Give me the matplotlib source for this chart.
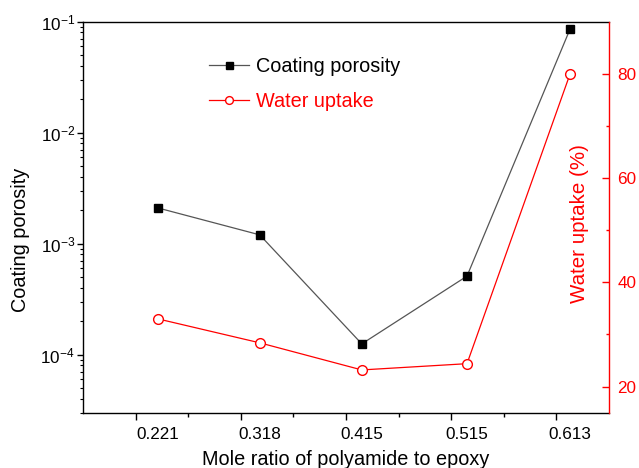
import numpy as np
import matplotlib
matplotlib.use('Agg')
from matplotlib import pyplot as plt
from matplotlib.ticker import NullFormatter

plt.rcParams['font.family'] = ['Liberation Sans', 'DejaVu Sans']
plt.rcParams['mathtext.fontset'] = 'custom'
plt.rcParams['mathtext.rm'] = 'Liberation Sans'

# data
ratio = [0.221, 0.318, 0.415, 0.515, 0.613]
ratio_labels = ['0.221', '0.318', '0.415', '0.515', '0.613']
porosity = [2.1e-3, 1.2e-3, 1.25e-4, 5.1e-4, 0.086]
water_uptake = [33.0, 28.4, 23.2, 24.4, 80.0]

fig = plt.figure(figsize=(6.39, 4.68), dpi=100)
ax = fig.add_axes([0.1299, 0.1182, 0.8232, 0.8355])
ax2 = ax.twinx()

l1, = ax.plot(ratio, porosity, color='#555555', lw=0.9, marker='s', ms=6.3,
              mfc='black', mec='black', label='Coating porosity')
l2, = ax2.plot(ratio, water_uptake, color='red', lw=0.9, marker='o', ms=7,
               mfc='white', mec='red', mew=1, label='Water uptake')

ax.set_yscale('log')
ax.set_ylim(3e-5, 0.1)
ax.set_xlim(0.15, 0.65)
ax2.set_ylim(15, 90)

# x axis: plain ticks, labels drawn at the data points
ax.set_xticks([0.2, 0.3, 0.4, 0.5, 0.6])
ax.set_xticklabels([])
ax.set_xticks([0.25, 0.35, 0.45, 0.55], minor=True)
ax.tick_params(axis='x', which='major', length=5, width=1, direction='out')
ax.tick_params(axis='x', which='minor', length=3, width=1, direction='out')
for xv, lab in zip(ratio, ratio_labels):
    ax.text(xv, -0.068, lab, transform=ax.get_xaxis_transform(),
            ha='center', va='baseline', fontsize=12.3)

ax.tick_params(axis='y', which='major', length=4.3, width=1, direction='out',
               labelsize=12.3, pad=1.5)
ax.tick_params(axis='y', which='minor', length=2.5, width=0.8, direction='out')
ax.yaxis.set_minor_formatter(NullFormatter())

ax2.set_yticks([20, 40, 60, 80])
ax2.set_yticks([30, 50, 70], minor=True)
ax2.tick_params(axis='y', which='major', length=5, width=1, direction='in',
                colors='red', labelsize=12.3, pad=6)
ax2.tick_params(axis='y', which='minor', length=2.5, width=1, direction='in',
                colors='red')

for s in ['left', 'bottom', 'top']:
    ax.spines[s].set_linewidth(1)
ax.spines['right'].set_visible(False)
for s in ['left', 'bottom', 'top']:
    ax2.spines[s].set_visible(False)
ax2.spines['right'].set_color('red')
ax2.spines['right'].set_linewidth(1)

ax.set_xlabel('Mole ratio of polyamide to epoxy', fontsize=14.3)
ax.xaxis.set_label_coords(0.5, -0.135)
ax.xaxis.label.set_va('baseline')

ax.set_ylabel('Coating porosity', fontsize=14.3)
ax.yaxis.set_label_coords(-0.1, 0.442)

ax2.set_ylabel('Water uptake (%)', fontsize=14.8, color='red')
ax2.yaxis.set_label_coords(0.925, 0.483)

ax2.legend([l1, l2], ['Coating porosity', 'Water uptake'], frameon=False,
           fontsize=14.3, labelcolor=['black', 'red'], handlelength=2.0,
           handletextpad=0.35, labelspacing=0.8, borderpad=0, markerscale=0.8,
           loc='center left', bbox_to_anchor=(0.221, 0.841))

fig.savefig('out.png', dpi=100)
